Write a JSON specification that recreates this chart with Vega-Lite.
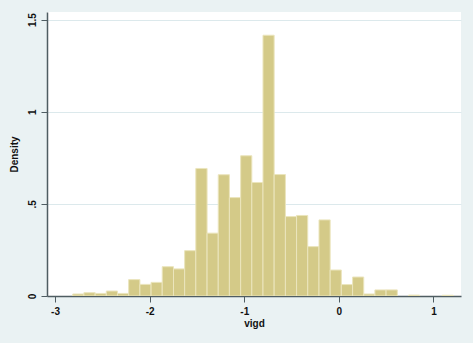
{
  "$schema": "https://vega.github.io/schema/vega-lite/v6.json",
  "width": 414,
  "height": 284,
  "autosize": {"type": "none"},
  "padding": {"left": 47, "top": 12, "right": 12, "bottom": 47},
  "background": "#eaf2f3",
  "config": {
    "view": {"fill": "white", "stroke": null},
    "font": "Liberation Sans"
  },
  "data": {
    "values": [
      {"bin_start": -2.813, "bin_end": -2.695, "density": 0.011},
      {"bin_start": -2.695, "bin_end": -2.576, "density": 0.018},
      {"bin_start": -2.576, "bin_end": -2.458, "density": 0.014},
      {"bin_start": -2.458, "bin_end": -2.340, "density": 0.027},
      {"bin_start": -2.340, "bin_end": -2.222, "density": 0.014},
      {"bin_start": -2.222, "bin_end": -2.103, "density": 0.089},
      {"bin_start": -2.103, "bin_end": -1.985, "density": 0.063},
      {"bin_start": -1.985, "bin_end": -1.867, "density": 0.074},
      {"bin_start": -1.867, "bin_end": -1.748, "density": 0.159},
      {"bin_start": -1.748, "bin_end": -1.630, "density": 0.147},
      {"bin_start": -1.630, "bin_end": -1.512, "density": 0.246},
      {"bin_start": -1.512, "bin_end": -1.393, "density": 0.692},
      {"bin_start": -1.393, "bin_end": -1.275, "density": 0.341},
      {"bin_start": -1.275, "bin_end": -1.157, "density": 0.658},
      {"bin_start": -1.157, "bin_end": -1.038, "density": 0.534},
      {"bin_start": -1.038, "bin_end": -0.920, "density": 0.761},
      {"bin_start": -0.920, "bin_end": -0.802, "density": 0.616},
      {"bin_start": -0.802, "bin_end": -0.684, "density": 1.415},
      {"bin_start": -0.684, "bin_end": -0.565, "density": 0.659},
      {"bin_start": -0.565, "bin_end": -0.447, "density": 0.431},
      {"bin_start": -0.447, "bin_end": -0.329, "density": 0.437},
      {"bin_start": -0.329, "bin_end": -0.210, "density": 0.268},
      {"bin_start": -0.210, "bin_end": -0.092, "density": 0.413},
      {"bin_start": -0.092, "bin_end": 0.026, "density": 0.141},
      {"bin_start": 0.026, "bin_end": 0.145, "density": 0.062},
      {"bin_start": 0.145, "bin_end": 0.263, "density": 0.103},
      {"bin_start": 0.263, "bin_end": 0.381, "density": 0.011},
      {"bin_start": 0.381, "bin_end": 0.499, "density": 0.033},
      {"bin_start": 0.499, "bin_end": 0.618, "density": 0.033},
      {"bin_start": 0.618, "bin_end": 0.736, "density": 0.0},
      {"bin_start": 0.736, "bin_end": 0.854, "density": 0.005},
      {"bin_start": 0.854, "bin_end": 0.973, "density": 0.0},
      {"bin_start": 0.973, "bin_end": 1.091, "density": 0.0},
      {"bin_start": 1.091, "bin_end": 1.209, "density": 0.004}
    ]
  },
  "transform": [{"filter": "datum.density > 0"}],
  "mark": {"type": "rect", "fill": "#d4ca88", "stroke": "#ebe5bd", "strokeWidth": 1, "clip": true},
  "encoding": {
    "x": {
      "field": "bin_start",
      "type": "quantitative",
      "scale": {"domain": [-3.085, 1.291], "nice": false, "zero": false},
      "axis": {
        "title": "vigd",
        "values": [-3, -2, -1, 0, 1],
        "labelExpr": "'' + datum.value",
        "grid": false,
        "domainColor": "#4f5d62",
        "domainWidth": 1.5,
        "tickColor": "#4f5d62",
        "tickSize": 6,
        "labelFontSize": 10,
        "labelFontWeight": "bold",
        "labelColor": "#111111",
        "labelPadding": 4,
        "titleFontSize": 10,
        "titleFontWeight": "bold",
        "titleColor": "#111111",
        "titlePadding": 2
      }
    },
    "x2": {"field": "bin_end"},
    "y": {
      "field": "density",
      "type": "quantitative",
      "scale": {"domain": [0, 1.541], "nice": false},
      "axis": {
        "title": "Density",
        "values": [0, 0.5, 1, 1.5],
        "labelExpr": "datum.value == 0.5 ? '.5' : ('' + datum.value)",
        "labelAngle": 270,
        "labelAlign": "center",
        "labelBaseline": "bottom",
        "grid": true,
        "gridColor": "#dce9ec",
        "gridWidth": 1,
        "domainColor": "#4f5d62",
        "domainWidth": 1.5,
        "tickColor": "#4f5d62",
        "tickSize": 6,
        "labelFontSize": 10,
        "labelFontWeight": "bold",
        "labelColor": "#111111",
        "labelPadding": 4,
        "titleFontSize": 10,
        "titleFontWeight": "bold",
        "titleColor": "#111111",
        "titlePadding": 8
      }
    },
    "y2": {"datum": 0}
  }
}
